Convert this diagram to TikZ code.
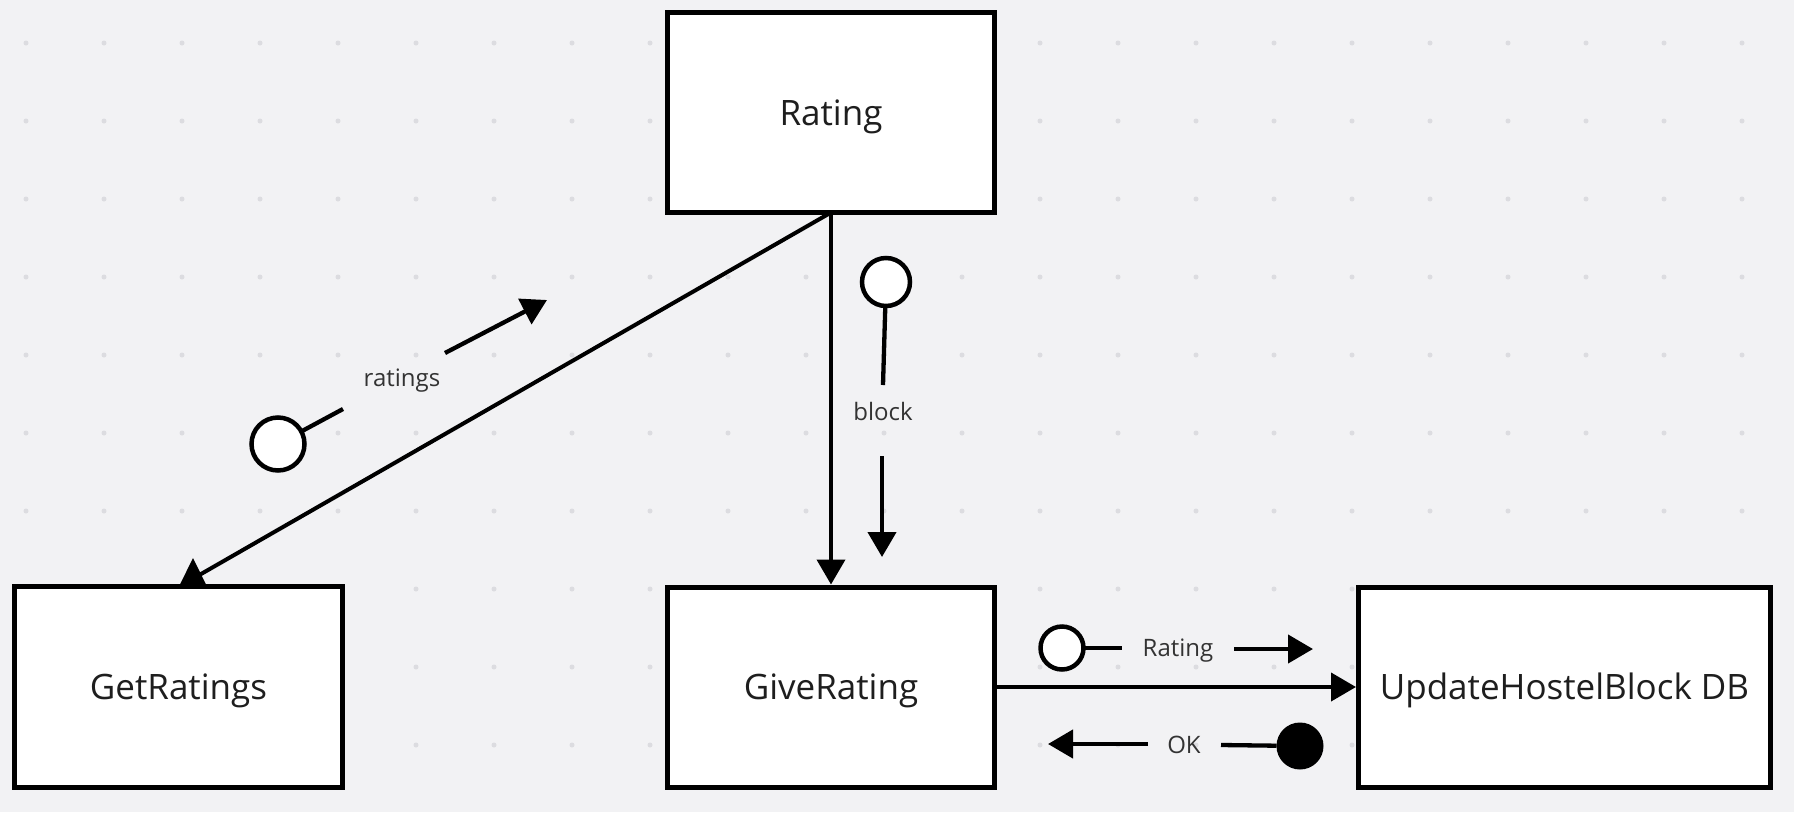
\documentclass[tikz,border=0pt]{standalone}
\usepackage{fontspec}
\setmainfont{Open Sans}
\usetikzlibrary{arrows.meta,calc}
\definecolor{bg}{HTML}{F2F2F4}
\definecolor{gdot}{HTML}{DCDCE0}
\definecolor{txt}{HTML}{1E1E1E}
\definecolor{ltxt}{HTML}{333333}
\begin{document}
\begin{tikzpicture}[x=1pt,y=-1pt,
 box/.style={draw=black,line width=5pt,fill=white,minimum width=#1,minimum height=200pt,inner sep=0pt,outer sep=0pt,font=\fontsize{35}{42}\selectfont,text=txt,text height=31pt,text depth=6pt},
 conn/.style={line width=4pt,-{Triangle[length=25pt,width=28pt]},shorten >=2.5pt},
 msg/.style={line width=4.3pt},
 msgarrow/.style={line width=4.3pt,-{Triangle[length=25pt,width=28pt]}},
 lbl/.style={font=\fontsize{24}{28}\selectfont,text=ltxt,inner sep=0pt},
 oc/.style={circle,draw=black,line width=4.5pt,fill=white,minimum size=#1,inner sep=0pt,outer sep=0pt},
 fc/.style={circle,fill=black,minimum size=#1,inner sep=0pt,outer sep=0pt},
]
\fill[bg] (0,0) rectangle (1794,812);
\useasboundingbox (0,0) rectangle (1794,812);
\foreach \i in {0,...,22} \foreach \j in {0,...,9} \fill[gdot] (26+78*\i,43+78*\j) circle (2.5pt);

% boxes
\node[box=327pt] (rating) at (831,112.5) {Rating};
\node[box=328pt,minimum height=201pt] (getr) at (178.5,687) {GetRatings};
\node[box=327pt] (give) at (831,687) {GiveRating};
\node[box=412pt] (upd) at (1564.5,687) {UpdateHostelBlock DB};

% connectors
\coordinate (gtip) at ($(getr.north)+(6,-3)$);
\draw[line width=4pt] (rating.south) -- (gtip);
\fill ($(getr.north)+(0.5,0)$) -- ($(getr.north)+(14.5,-28.5)$) -- ($(getr.north)+(28.5,0)$) -- cycle;
\draw[conn] (rating.south) -- (give.north);
\draw[conn] (give.east) -- (upd.west);

% message: ratings
\node[oc=53pt] (c1) at (278,444) {};
\coordinate (r1a) at (343,409);
\node[lbl] (t1) at (402,381) {ratings};
\coordinate (r1b) at (445,353);
\coordinate (r1c) at (547,300);
\draw[msg] (c1) -- (r1a);
\draw[msgarrow] (r1b) -- (r1c);

% message: block
\node[oc=48pt] (c2) at (886,282) {};
\coordinate (b1a) at (883,385);
\node[lbl] (t2) at (883,411) {block};
\coordinate (b1b) at (882,456);
\coordinate (b1c) at (882,557);
\draw[msg] (c2) -- (b1a);
\draw[msgarrow] (b1b) -- (b1c);

% message: Rating
\node[oc=43pt] (c3) at (1062,648) {};
\coordinate (m1a) at (1122,648);
\node[lbl] (t3) at (1178,651) {Rating};
\coordinate (m1b) at (1234,649);
\coordinate (m1c) at (1313,649);
\draw[msg] (c3) -- (m1a);
\draw[msgarrow] (m1b) -- (m1c);

% message: OK
\node[fc=47pt] (c4) at (1300,746) {};
\coordinate (o1a) at (1221,745);
\node[lbl] (t4) at (1184,745) {OK};
\coordinate (o1b) at (1148,744);
\coordinate (o1c) at (1048,744);
\draw[msg] (c4) -- (o1a);
\draw[msgarrow] (o1b) -- (o1c);
\end{tikzpicture}
\end{document}
